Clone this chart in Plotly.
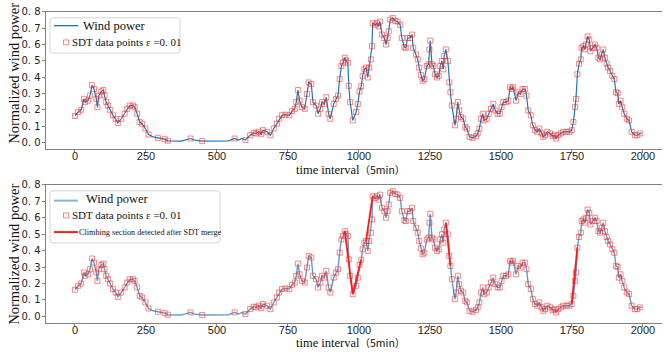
import plotly.graph_objects as go

# ---- data ----
t = [0, 11, 22, 32, 36, 46, 53, 60, 67, 75, 79, 84, 93, 100, 104, 110, 116, 123, 134, 143,
     151, 163, 175, 184, 193, 204, 210, 219, 228, 236, 248, 259, 275, 292, 316, 327, 374, 407, 421, 448,
     503, 541, 562, 576, 588, 600, 617, 629, 638, 647, 656, 662, 676, 688, 700, 711, 719, 729, 741, 755,
     764, 774, 779, 785, 791, 799, 809, 817, 823, 832, 838, 849, 856, 864, 870, 878, 885, 893, 899, 911,
     919, 926, 932, 938, 944, 950, 954, 961, 964, 969, 978, 990, 996, 1002, 1008, 1013, 1019, 1025, 1031, 1036,
     1042, 1046, 1048, 1057, 1063, 1069, 1074, 1081, 1089, 1095, 1101, 1105, 1110, 1119, 1128, 1136, 1145, 1151, 1160, 1165,
     1171, 1180, 1187, 1191, 1201, 1207, 1212, 1218, 1224, 1230, 1239, 1245, 1248, 1251, 1257, 1262, 1268, 1275, 1281, 1286,
     1292, 1297, 1300, 1306, 1313, 1318, 1322, 1327, 1338, 1342, 1348, 1353, 1359, 1367, 1374, 1380, 1389, 1400, 1412, 1418,
     1424, 1430, 1436, 1441, 1450, 1457, 1465, 1473, 1480, 1488, 1496, 1502, 1508, 1518, 1526, 1532, 1538, 1543, 1553, 1561,
     1569, 1576, 1585, 1590, 1596, 1605, 1612, 1620, 1628, 1635, 1643, 1649, 1655, 1663, 1673, 1682, 1688, 1694, 1702, 1711,
     1719, 1731, 1741, 1749, 1755, 1761, 1764, 1769, 1775, 1781, 1784, 1790, 1796, 1799, 1805, 1811, 1815, 1823, 1831, 1837,
     1843, 1849, 1855, 1860, 1866, 1872, 1877, 1884, 1892, 1899, 1905, 1911, 1915, 1921, 1927, 1934, 1943, 1951, 1960, 1972,
     1980, 1989, 1995]
power = [0.162, 0.186, 0.200, 0.267, 0.247, 0.256, 0.287, 0.352, 0.327, 0.267, 0.216, 0.287, 0.313, 0.321, 0.287, 0.247, 0.226, 0.200, 0.166, 0.145,
         0.119, 0.145, 0.176, 0.206, 0.226, 0.226, 0.216, 0.176, 0.125, 0.115, 0.085, 0.048, 0.034, 0.028, 0.020, 0.010, 0.008, 0.024, 0.014, 0.008,
         0.008, 0.010, 0.024, 0.014, 0.024, 0.014, 0.044, 0.059, 0.055, 0.065, 0.050, 0.075, 0.065, 0.044, 0.085, 0.115, 0.145, 0.166, 0.170, 0.166,
         0.192, 0.206, 0.247, 0.321, 0.256, 0.216, 0.206, 0.297, 0.368, 0.358, 0.247, 0.226, 0.176, 0.206, 0.247, 0.236, 0.277, 0.176, 0.145, 0.236,
         0.267, 0.287, 0.388, 0.468, 0.489, 0.519, 0.503, 0.489, 0.347, 0.247, 0.135, 0.186, 0.236, 0.312, 0.345, 0.408, 0.448, 0.459, 0.398, 0.459,
         0.509, 0.590, 0.731, 0.721, 0.731, 0.711, 0.741, 0.661, 0.640, 0.600, 0.640, 0.681, 0.752, 0.762, 0.745, 0.741, 0.721, 0.640, 0.584, 0.580,
         0.640, 0.640, 0.661, 0.580, 0.539, 0.509, 0.459, 0.414, 0.378, 0.388, 0.468, 0.479, 0.570, 0.624, 0.479, 0.468, 0.418, 0.398, 0.408, 0.468,
         0.499, 0.448, 0.529, 0.570, 0.499, 0.368, 0.307, 0.226, 0.105, 0.145, 0.247, 0.196, 0.156, 0.145, 0.095, 0.085, 0.034, 0.028, 0.038, 0.055,
         0.085, 0.145, 0.176, 0.135, 0.145, 0.176, 0.206, 0.236, 0.196, 0.176, 0.176, 0.216, 0.247, 0.247, 0.256, 0.338, 0.327, 0.338, 0.256, 0.307,
         0.297, 0.327, 0.327, 0.287, 0.196, 0.166, 0.105, 0.075, 0.065, 0.085, 0.055, 0.034, 0.044, 0.065, 0.055, 0.038, 0.044, 0.024, 0.044, 0.055,
         0.065, 0.065, 0.065, 0.075, 0.125, 0.216, 0.267, 0.418, 0.483, 0.509, 0.580, 0.590, 0.570, 0.600, 0.650, 0.630, 0.559, 0.580, 0.600, 0.580,
         0.519, 0.509, 0.539, 0.570, 0.519, 0.483, 0.459, 0.438, 0.408, 0.388, 0.307, 0.301, 0.236, 0.256, 0.216, 0.176, 0.145, 0.135, 0.065, 0.044,
         0.044, 0.055, 0.059]

# time stamps that are not retained as SDT points (flat stretch)
non_sdt_t = [275, 374, 421, 503, 541, 576, 588, 1995]

# climbing sections detected after SDT merge (start, end time)
ramp_start = [950, 978, 1025, 1306, 1749]
ramp_end = [978, 1008, 1048, 1322, 1769]

x_ticks = [0, 250, 500, 750, 1000, 1250, 1500, 1750, 2000]
y_ticks = [0.0, 0.1, 0.2, 0.3, 0.4, 0.5, 0.6, 0.7, 0.8]
y_ticktext = ["0. 0", "0. 1", "0. 2", "0. 3", "0. 4", "0. 5", "0. 6", "0. 7", "0. 8"]

legend_line = "Wind power"
legend_sdt = "SDT data points ε =0. 01"
legend_ramp = "Climbing section detected after SDT merge"
x_title = "time interval<span style='font-family:Noto Sans CJK SC;font-size:10.5px'>（5min）</span>"
y_title = "Normalized wind power"

sdt_t = [a for a in t if a not in non_sdt_t]
sdt_p = [b for a, b in zip(t, power) if a not in non_sdt_t]
lookup = dict(zip(t, power))

W, H = 665, 354
SERIF = "Liberation Serif, Times New Roman, serif"


def px(x):
    return x / W


def py(y):
    return 1 - y / H


fig = go.Figure()

line_top = "#1f77b4"
line_bot = "rgba(31,119,180,0.72)"
mk_col = "rgba(240,40,40,0.55)"
red = "#ff1a1a"

# top panel
fig.add_trace(go.Scatter(x=t, y=power, mode="lines", line=dict(color=line_top, width=1.2),
                         name=legend_line, xaxis="x", yaxis="y", showlegend=False))
fig.add_trace(go.Scatter(x=sdt_t, y=sdt_p, mode="markers",
                         marker=dict(symbol="square-open", size=5, color=mk_col, line=dict(width=1)),
                         name=legend_sdt, xaxis="x", yaxis="y", showlegend=False))

# bottom panel
fig.add_trace(go.Scatter(x=t, y=power, mode="lines", line=dict(color=line_bot, width=1.4),
                         name=legend_line, xaxis="x2", yaxis="y2", showlegend=False))
fig.add_trace(go.Scatter(x=sdt_t, y=sdt_p, mode="markers",
                         marker=dict(symbol="square-open", size=5, color=mk_col, line=dict(width=1)),
                         name=legend_sdt, xaxis="x2", yaxis="y2", showlegend=False))
for s, e in zip(ramp_start, ramp_end):
    fig.add_trace(go.Scatter(x=[s, e], y=[lookup[s], lookup[e]], mode="lines",
                             line=dict(color=red, width=1.8), name=legend_ramp,
                             showlegend=False, xaxis="x2", yaxis="y2"))

xl, xr = 46 / W, 662 / W
top_dom = [1 - 145 / H, 1 - 6 / H]
bot_dom = [1 - 322 / H, 1 - 182 / H]
xrange_ = [-102, 2067]
yrange_ = [-0.0375, 0.8]

common_x = dict(range=xrange_, tickvals=x_ticks, showline=True, linecolor="#808080", linewidth=1,
                mirror=True, ticks="outside", ticklen=3.5, tickcolor="#808080", showgrid=False,
                zeroline=False, ticklabelstandoff=-6,
                tickfont=dict(family="Liberation Sans, Arial", size=11, color="#222"))
common_y = dict(range=yrange_, tickvals=y_ticks, ticktext=y_ticktext, showline=True, linecolor="#808080",
                linewidth=1, ticks="outside", ticklen=3.5, tickcolor="#808080", showgrid=False,
                zeroline=False, ticklabelstandoff=-1,
                tickfont=dict(family="DejaVu Sans", size=10, color="#222"))

fig.update_layout(
    width=W, height=H, margin=dict(l=0, r=0, t=0, b=0),
    paper_bgcolor="white", plot_bgcolor="white", showlegend=False,
    xaxis=dict(domain=[xl, xr], anchor="y", **common_x),
    yaxis=dict(domain=top_dom, anchor="x", **common_y),
    xaxis2=dict(domain=[xl, xr], anchor="y2", **common_x),
    yaxis2=dict(domain=bot_dom, anchor="x2", **common_y),
)

# ---- legends (drawn as boxes with sample glyphs) ----
def rounded_box(x0, y0, x1, y1, r=3):
    rx, ry = r / W, r / H
    X0, X1, Y0, Y1 = px(x0), px(x1), py(y0), py(y1)
    return (f"M {X0+rx},{Y0} L {X1-rx},{Y0} Q {X1},{Y0} {X1},{Y0-ry} L {X1},{Y1+ry} "
            f"Q {X1},{Y1} {X1-rx},{Y1} L {X0+rx},{Y1} Q {X0},{Y1} {X0},{Y1+ry} "
            f"L {X0},{Y0-ry} Q {X0},{Y0} {X0+rx},{Y0} Z")


def add_box(x0, y0, x1, y1):
    fig.add_shape(type="path", path=rounded_box(x0, y0, x1, y1), xref="paper", yref="paper",
                  line=dict(color="#d4d4d4", width=1), fillcolor="rgba(255,255,255,0.85)", layer="above")


def add_line_glyph(x0, x1, y, color, width):
    fig.add_shape(type="line", x0=px(x0), x1=px(x1), y0=py(y), y1=py(y), xref="paper", yref="paper",
                  line=dict(color=color, width=width), layer="above")


def add_square_glyph(xc, yc, s=5):
    fig.add_shape(type="rect", x0=px(xc - s / 2), x1=px(xc + s / 2), y0=py(yc - s / 2), y1=py(yc + s / 2),
                  xref="paper", yref="paper", line=dict(color=mk_col, width=1), layer="above")


def add_text(text, x, y, size):
    fig.add_annotation(text=text, x=px(x), y=py(y), xref="paper", yref="paper", showarrow=False,
                       xanchor="left", yanchor="middle", font=dict(family=SERIF, size=size, color="#111"))


# top legend
add_box(50, 12, 180, 48)
add_line_glyph(54, 78, 20, line_top, 1.3)
add_text(legend_line, 81, 20, 12.5)
add_square_glyph(66, 37)
add_text(legend_sdt, 70, 37, 11)

# bottom legend
add_box(50, 188, 220, 241)
add_line_glyph(54, 78, 198, "rgba(31,119,180,0.55)", 2)
add_text(legend_line, 84, 196, 12.5)
add_square_glyph(66, 213)
add_text(legend_sdt, 70, 213, 11)
add_line_glyph(54, 78, 230, red, 2)
add_text(legend_ramp, 77, 230, 8.2)

# axis titles
for yc in [166, 342]:
    fig.add_annotation(text=x_title, x=px(350), y=py(yc), xref="paper", yref="paper",
                       showarrow=False, xanchor="center", yanchor="middle",
                       font=dict(family=SERIF, size=12.5, color="#111"))
for yc in [69, 253]:
    fig.add_annotation(text=y_title, x=px(14), y=py(yc), xref="paper", yref="paper",
                       showarrow=False, xanchor="center", yanchor="middle", textangle=-90,
                       font=dict(family=SERIF, size=14.5, color="#111"))

fig.write_html("out.html")
